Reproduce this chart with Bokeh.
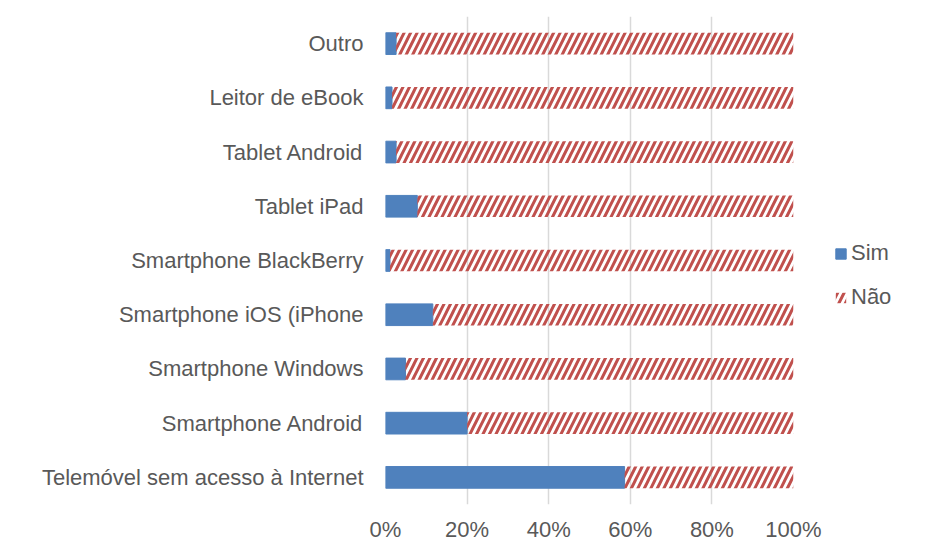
from bokeh.plotting import figure
from bokeh.models import ColumnDataSource, FactorRange, NumeralTickFormatter, Legend, LegendItem, FixedTicker
from bokeh.embed import file_html
from bokeh.resources import INLINE

categories = ["Telemóvel sem acesso à Internet", "Smartphone Android", "Smartphone Windows",
              "Smartphone iOS (iPhone", "Smartphone BlackBerry", "Tablet iPad",
              "Tablet Android", "Leitor de eBook", "Outro"]
sim = [0.586, 0.20, 0.049, 0.116, 0.011, 0.078, 0.026, 0.016, 0.026]
nao = [1 - s for s in sim]
x_ticks = [0, 0.2, 0.4, 0.6, 0.8, 1.0]

FONT = "Liberation Sans"
TXT = "#595959"

src = ColumnDataSource(dict(cat=categories, sim=sim, nao=nao,
                            zero=[0]*len(sim), total=[s + n for s, n in zip(sim, nao)]))

p = figure(frame_width=408, frame_height=488, output_backend="svg", toolbar_location=None,
           y_range=FactorRange(*categories, range_padding=0), x_range=(0, 1),
           min_border_left=385, min_border_top=16, min_border_right=0, min_border_bottom=0)
p.outline_line_color = None
p.background_fill_color = "white"
p.border_fill_color = "white"

r_sim = p.hbar(y="cat", left="zero", right="sim", height=0.4, source=src,
               fill_color="#4F81BD", line_color="#4F81BD", line_width=1)
r_nao = p.hbar(y="cat", left="sim", right="total", height=0.4, source=src,
               fill_color=None, line_color=None,
               hatch_pattern="/", hatch_color="#C0504D", hatch_scale=13, hatch_weight=3)

p.xaxis.ticker = FixedTicker(ticks=x_ticks)
p.xaxis.formatter = NumeralTickFormatter(format="0%")
p.xaxis.axis_line_color = None
p.xaxis.major_tick_line_color = None
p.xaxis.minor_tick_line_color = None
p.xaxis.major_label_text_font = FONT
p.xaxis.major_label_text_font_size = "22px"
p.xaxis.major_label_text_color = TXT
p.xaxis.major_label_standoff = 6

p.yaxis.axis_line_color = None
p.yaxis.major_tick_line_color = None
p.yaxis.minor_tick_line_color = None
p.yaxis.major_label_text_font = FONT
p.yaxis.major_label_text_font_size = "22px"
p.yaxis.major_label_text_color = TXT
p.yaxis.major_label_standoff = 16

p.ygrid.grid_line_color = None
p.xgrid.grid_line_color = "#D9D9D9"
p.xgrid.grid_line_width = 1.5

legend = Legend(items=[LegendItem(label="Sim", renderers=[r_sim]),
                       LegendItem(label="Não", renderers=[r_nao])],
                location=(41, 194), orientation="vertical")
legend.label_text_font = FONT
legend.label_text_font_size = "22px"
legend.label_text_color = TXT
legend.glyph_width = 13
legend.glyph_height = 13
legend.label_height = 24
legend.spacing = 18
legend.label_standoff = 4
legend.border_line_color = None
legend.background_fill_alpha = 0
legend.margin = 0
legend.padding = 0
legend.label_width = 50
p.add_layout(legend, "right")

open("out.html", "w").write(file_html(p, INLINE))
